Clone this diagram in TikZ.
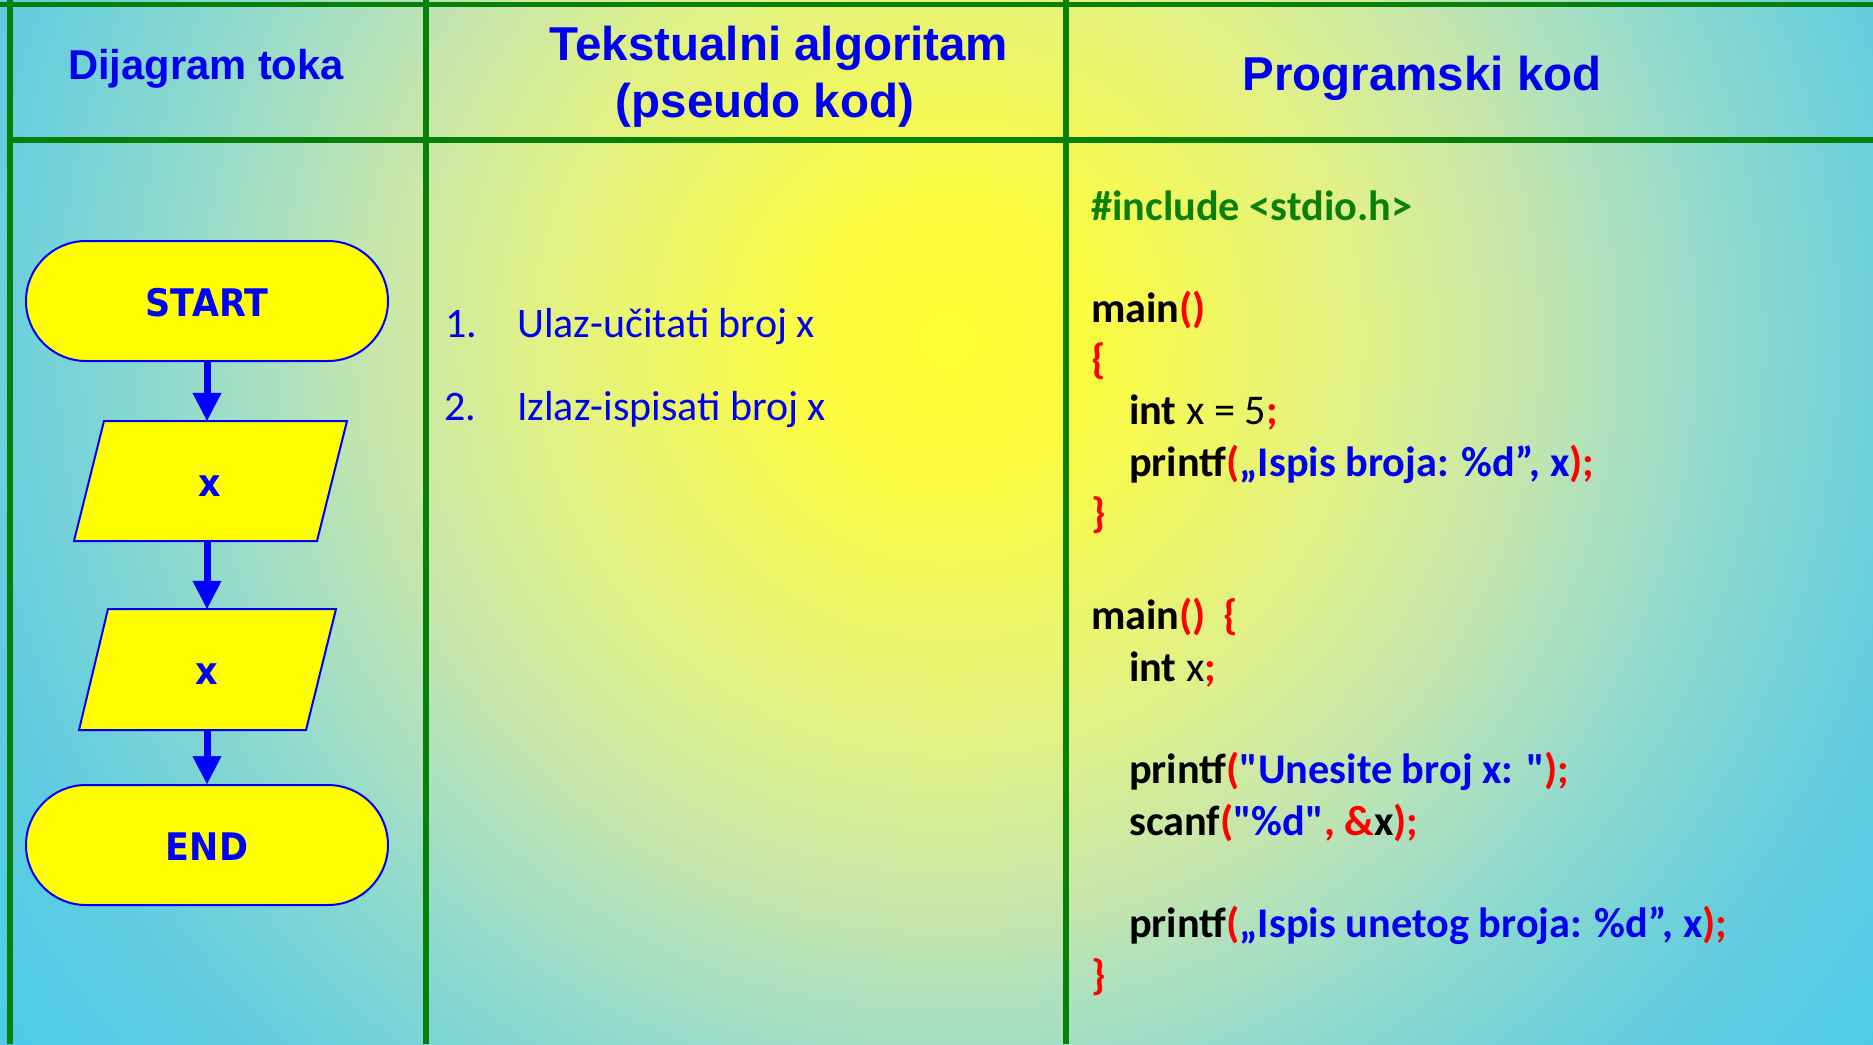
\documentclass[tikz,border=0pt]{standalone}
\usepackage{fontspec}
\usetikzlibrary{arrows.meta}

\newfontfamily\headfont{Liberation Sans}
\newfontfamily\flowfont{DejaVu Sans}[FakeStretch=0.92]
\newfontfamily\calfont{Carlito}

% palette
\definecolor{gridgreen}{HTML}{068006}
\definecolor{hblue}{HTML}{0000F0}
\definecolor{fblue}{HTML}{0000FF}
\definecolor{fyellow}{HTML}{FFFF00}
\definecolor{cred}{HTML}{FF0000}
\definecolor{cblue}{HTML}{0000F0}
\definecolor{cgreen}{HTML}{0A800A}
% background glow stops
\definecolor{bgA}{HTML}{FFFF30}
\definecolor{bgB}{HTML}{FCFC40}
\definecolor{bgC}{HTML}{DEF08C}
\definecolor{bgD}{HTML}{C4E5AE}
\definecolor{bgE}{HTML}{A2DEC6}
\definecolor{bgF}{HTML}{88D8D0}
\definecolor{bgG}{HTML}{62CCE0}
\definecolor{bgH}{HTML}{4CCBEA}

\pgfdeclareradialshading{bgglow}{\pgfpointorigin}{%
  color(0bp)=(bgA); color(140bp)=(bgB); color(430bp)=(bgC);
  color(583bp)=(bgD); color(709bp)=(bgE); color(808bp)=(bgF);
  color(985bp)=(bgG); color(1181bp)=(bgH); color(1250bp)=(bgH)}

% lower a label's ink without changing its box
\newcommand{\inkdown}[2]{\raisebox{-#1}[\height][\depth]{#2}}

\begin{document}
\begin{tikzpicture}[x=1pt,y=-1pt,
  gridline/.style={draw=gridgreen, line width=5.5pt},
  headtext/.style={text=hblue, font={\headfont\bfseries\fontsize{47.5}{57}\selectfont}, anchor=base, inner sep=0pt},
  terminal/.style={draw=fblue, line width=2pt, fill=fyellow, rounded corners=60pt,
    minimum width=362pt, minimum height=120pt, inner sep=0pt, text=fblue,
    font={\flowfont\bfseries\fontsize{38}{42}\selectfont}},
  iobox/.style={draw=fblue, line width=2pt, fill=fyellow},
  iolabel/.style={minimum height=120pt, inner sep=0pt, text=fblue,
    font={\flowfont\bfseries\fontsize{38}{42}\selectfont}},
  flowarrow/.style={draw=fblue, line width=7pt,
    -{Triangle[width=29pt,length=28pt,line width=0.5pt]}},
  algo/.style={text=hblue, font={\calfont\fontsize{42}{50}\selectfont}, anchor=base west, inner sep=0pt},
  codeline/.style={text=black, font={\calfont\bfseries\fontsize{42.3}{50}\selectfont}, anchor=base west, inner sep=0pt}
]
\useasboundingbox (0,0) rectangle (1873,1044);

% background glow
\begin{scope}
  \clip (0,0) rectangle (1873,1044);
  \node[inner sep=0pt, outer sep=0pt] (glow) at (948,340) {\pgfuseshading{bgglow}};
\end{scope}

% table rules
\draw[gridline, line width=5pt] (0,4.2) -- (1873,4.2);
\draw[gridline, line width=6pt] (7,139.5) -- (1873,139.5);
\draw[gridline] (10,0) -- (10,1044);
\draw[gridline] (426,0) -- (426,1044);
\draw[gridline] (1066,0) -- (1066,1044);

% column headings
\node[headtext, font={\headfont\bfseries\fontsize{41.7}{50}\selectfont}] (h1) at (206,79) {Dijagram toka};
\node[headtext] (h2a) at (779,60) {Tekstualni algoritam};
\node[headtext] (h2b) at (765,117) {(pseudo kod)};
\node[headtext] (h3) at (1422,90) {Programski kod};

% flowchart
\node[terminal] (start) at (207,301) {\inkdown{2pt}{START}};
\draw[iobox] (104,421) -- (347,421) -- (317,541) -- (74,541) -- cycle;
\node[iolabel] (inbox) at (210,481) {\inkdown{5pt}{x}};
\draw[iobox] (108,609) -- (336,609) -- (306,730) -- (79,730) -- cycle;
\node[iolabel, minimum height=121pt] (outbox) at (207,669.5) {\inkdown{5pt}{x}};
\node[terminal] (stop) at (207,845) {\inkdown{2pt}{END}};

\draw[flowarrow] (start.south) -- (start.south |- inbox.north);
\draw[flowarrow] (inbox.south -| start.south) -- (start.south |- outbox.north);
\draw[flowarrow] (outbox.south) -- (stop.north);

% pseudo code
\node[algo] (n1) at (445,337) {1.};
\node[algo] (a1) at (517,337) {Ulaz-učitati broj x};
\node[algo] (n2) at (444,420) {2.};
\node[algo] (a2) at (517,420) {Izlaz-ispisati broj x};

% program code
\node[codeline, text=cgreen] (c0) at (1091,220.5) {\#include <stdio.h>};
\node[codeline] (c2) at (1091,322.1) {main\textcolor{cred}{()}};
\node[codeline] (c3) at (1091,373.4) {\textcolor{cred}{\{}};
\node[codeline] (c4) at (1129,424.7) {int \textmd{x = 5}\textcolor{cred}{;}};
\node[codeline] (c5) at (1129,476) {printf\textcolor{cred}{(}\textcolor{cblue}{„Ispis broja: \%d”, x}\textcolor{cred}{);}};
\node[codeline] (c6) at (1091,527.3) {\textcolor{cred}{\}}};
\node[codeline] (c8) at (1091,629.9) {main\textcolor{cred}{()\hspace{18pt}\{}};
\node[codeline] (c9) at (1129,681.2) {int \textmd{x}\textcolor{cred}{;}};
\node[codeline] (c11) at (1129,783.8) {printf\textcolor{cred}{(}\textcolor{cblue}{"Unesite broj x: "}\textcolor{cred}{);}};
\node[codeline] (c12) at (1129,835.1) {scanf\textcolor{cred}{(}\textcolor{cblue}{"\%d"}\textcolor{cred}{, \&}x\textcolor{cred}{);}};
\node[codeline] (c14) at (1129,937.7) {printf\textcolor{cred}{(}\textcolor{cblue}{„Ispis unetog broja: \%d”, x}\textcolor{cred}{);}};
\node[codeline] (c15) at (1091,989) {\textcolor{cred}{\}}};
\end{tikzpicture}
\end{document}
